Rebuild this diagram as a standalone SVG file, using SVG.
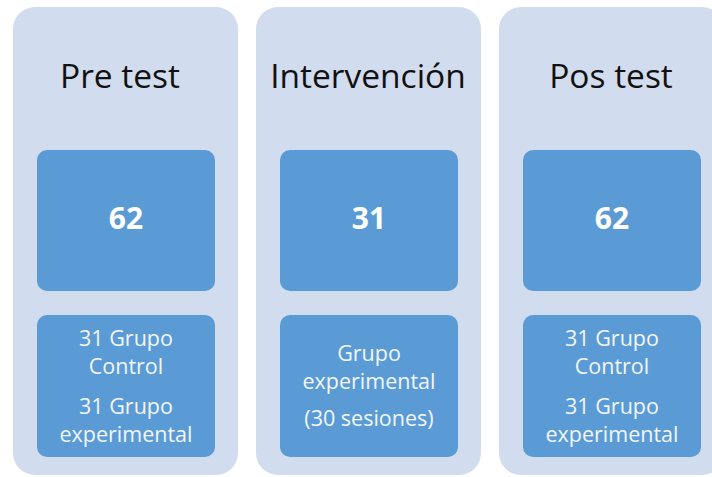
<svg xmlns="http://www.w3.org/2000/svg" width="712" height="477" viewBox="0 0 712 477">
<style>
.outer{fill:#D1DCEE}
.inner{fill:#5B9BD5}
.title{font-family:"Open Sans","Liberation Sans",sans-serif;font-size:33.5px;fill:#111;text-anchor:middle}
.num{font-family:"Open Sans","Liberation Sans",sans-serif;font-size:30px;font-weight:bold;fill:#fff;text-anchor:middle}
.lbl{font-family:"Open Sans","Liberation Sans",sans-serif;font-size:21.5px;fill:#F2F6FB;text-anchor:middle}
</style>
<rect width="712" height="477" fill="#fff"/>
<g id="pretest">
<rect class="outer" x="13" y="7" width="225" height="468" rx="22"/>
<text class="title" x="120" y="88">Pre test</text>
<rect class="inner" x="37" y="150" width="178" height="141" rx="10"/>
<text class="num" x="126" y="229">62</text>
<rect class="inner" x="37" y="315" width="178" height="142" rx="10"/>
<text class="lbl" x="126" y="346">31 Grupo</text>
<text class="lbl" x="126" y="374">Control</text>
<text class="lbl" x="126" y="414">31 Grupo</text>
<text class="lbl" x="126" y="442">experimental</text>
</g>
<g id="intervencion">
<rect class="outer" x="256" y="7" width="225" height="468" rx="22"/>
<text class="title" x="368" y="88">Intervención</text>
<rect class="inner" x="280" y="150" width="178" height="141" rx="10"/>
<text class="num" x="369" y="229">31</text>
<rect class="inner" x="280" y="315" width="178" height="142" rx="10"/>
<text class="lbl" x="369" y="361">Grupo</text>
<text class="lbl" x="369" y="389">experimental</text>
<text class="lbl" x="369" y="426">(30 sesiones)</text>
</g>
<g id="postest">
<rect class="outer" x="499" y="7" width="225" height="468" rx="22"/>
<text class="title" x="611" y="88">Pos test</text>
<rect class="inner" x="523" y="150" width="178" height="141" rx="10"/>
<text class="num" x="612" y="229">62</text>
<rect class="inner" x="523" y="315" width="178" height="142" rx="10"/>
<text class="lbl" x="612" y="346">31 Grupo</text>
<text class="lbl" x="612" y="374">Control</text>
<text class="lbl" x="612" y="414">31 Grupo</text>
<text class="lbl" x="612" y="442">experimental</text>
</g>
<g id="connectors"></g>
</svg>
